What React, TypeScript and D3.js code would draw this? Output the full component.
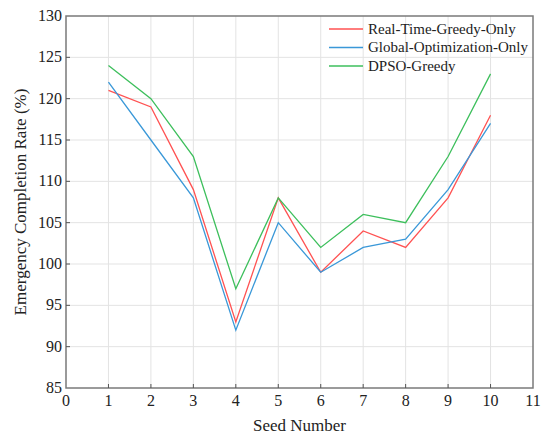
import { useEffect, useRef } from 'react';
import * as d3 from 'd3';

const seeds = [1, 2, 3, 4, 5, 6, 7, 8, 9, 10];
const realTimeGreedy = [121, 119, 109, 93, 108, 99, 104, 102, 108, 118];
const globalOpt = [122, 115, 108, 92, 105, 99, 102, 103, 109, 117];
const dpsoGreedy = [124, 120, 113, 97, 108, 102, 106, 105, 113, 123];
const xTicks = d3.range(0, 12);
const yTicks = [85, 90, 95, 100, 105, 110, 115, 120, 125, 130];

const seriesNames = ['Real-Time-Greedy-Only', 'Global-Optimization-Only', 'DPSO-Greedy'];
const seriesColors = ['#ff5252', '#3a98d8', '#3dbf5c'];

const App = () => {
  const ref = useRef<SVGSVGElement>(null);

  useEffect(() => {
    if (!ref.current) return;
    const svg = d3.select(ref.current);
    svg.selectAll('*').remove();

    const width = 550;
    const height = 444;
    const margin = { top: 16, right: 17, bottom: 56, left: 66 };
    const font = '"Liberation Serif", "Times New Roman", serif';

    const x = d3.scaleLinear().domain([0, 11]).range([margin.left, width - margin.right]);
    const y = d3.scaleLinear().domain([85, 130]).range([height - margin.bottom, margin.top]);

    // grid
    const grid = svg.append('g').attr('stroke', '#e3e3e3').attr('stroke-width', 1);
    grid.selectAll('line.v')
      .data(xTicks.slice(1, -1))
      .join('line')
      .attr('x1', d => x(d)).attr('x2', d => x(d))
      .attr('y1', y(85)).attr('y2', y(130));
    grid.selectAll('line.h')
      .data(yTicks.slice(1, -1))
      .join('line')
      .attr('class', 'h')
      .attr('x1', x(0)).attr('x2', x(11))
      .attr('y1', d => y(d)).attr('y2', d => y(d));

    // lines
    const all = [realTimeGreedy, globalOpt, dpsoGreedy];
    const line = d3.line<number>()
      .x((_, i) => x(seeds[i]))
      .y(d => y(d));
    all.forEach((vals, i) => {
      svg.append('path')
        .datum(vals)
        .attr('fill', 'none')
        .attr('stroke', seriesColors[i])
        .attr('stroke-width', 1.3)
        .attr('d', line);
    });

    // frame
    svg.append('rect')
      .attr('x', x(0)).attr('y', y(130))
      .attr('width', x(11) - x(0)).attr('height', y(85) - y(130))
      .attr('fill', 'none')
      .attr('stroke', '#7a7a7a')
      .attr('stroke-width', 1.5);

    // ticks (inward)
    svg.append('g').selectAll('line')
      .data(xTicks.slice(1, -1))
      .join('line')
      .attr('x1', d => x(d)).attr('x2', d => x(d))
      .attr('y1', y(85)).attr('y2', y(85) - 4)
      .attr('stroke', '#555');
    svg.append('g').selectAll('line')
      .data(yTicks.slice(1, -1))
      .join('line')
      .attr('x1', x(0)).attr('x2', x(0) + 4)
      .attr('y1', d => y(d)).attr('y2', d => y(d))
      .attr('stroke', '#555');

    // tick labels
    svg.append('g').selectAll('text')
      .data(xTicks)
      .join('text')
      .attr('x', d => x(d))
      .attr('y', y(85) + 18)
      .attr('text-anchor', 'middle')
      .attr('font-family', font)
      .attr('font-size', 16)
      .attr('fill', '#222')
      .text(d => d);
    svg.append('g').selectAll('text')
      .data(yTicks)
      .join('text')
      .attr('x', x(0) - 4)
      .attr('y', d => y(d))
      .attr('dy', '0.32em')
      .attr('text-anchor', 'end')
      .attr('font-family', font)
      .attr('font-size', 16)
      .attr('fill', '#222')
      .text(d => d);

    // axis titles
    svg.append('text')
      .attr('x', (x(0) + x(11)) / 2)
      .attr('y', 431)
      .attr('text-anchor', 'middle')
      .attr('font-family', font)
      .attr('font-size', 17)
      .attr('fill', '#222')
      .text('Seed Number');
    svg.append('text')
      .attr('transform', `translate(26,${(y(85) + y(130)) / 2}) rotate(-90)`)
      .attr('text-anchor', 'middle')
      .attr('font-family', font)
      .attr('font-size', 17)
      .attr('fill', '#222')
      .text('Emergency Completion Rate (%)');

    // legend
    const legend = svg.append('g');
    seriesNames.forEach((name, i) => {
      const ly = 29 + i * 18.5;
      legend.append('line')
        .attr('x1', 329).attr('x2', 363)
        .attr('y1', ly).attr('y2', ly)
        .attr('stroke', seriesColors[i])
        .attr('stroke-width', 1.3);
      legend.append('text')
        .attr('x', 368)
        .attr('y', ly)
        .attr('dy', '0.32em')
        .attr('font-family', font)
        .attr('font-size', 15)
        .attr('fill', '#222')
        .text(name);
    });
  }, []);

  return (
    <svg
      ref={ref}
      width={550}
      height={444}
      style={{ position: 'absolute', left: 0, top: 0, background: '#fff' }}
    />
  );
};

export default App;
